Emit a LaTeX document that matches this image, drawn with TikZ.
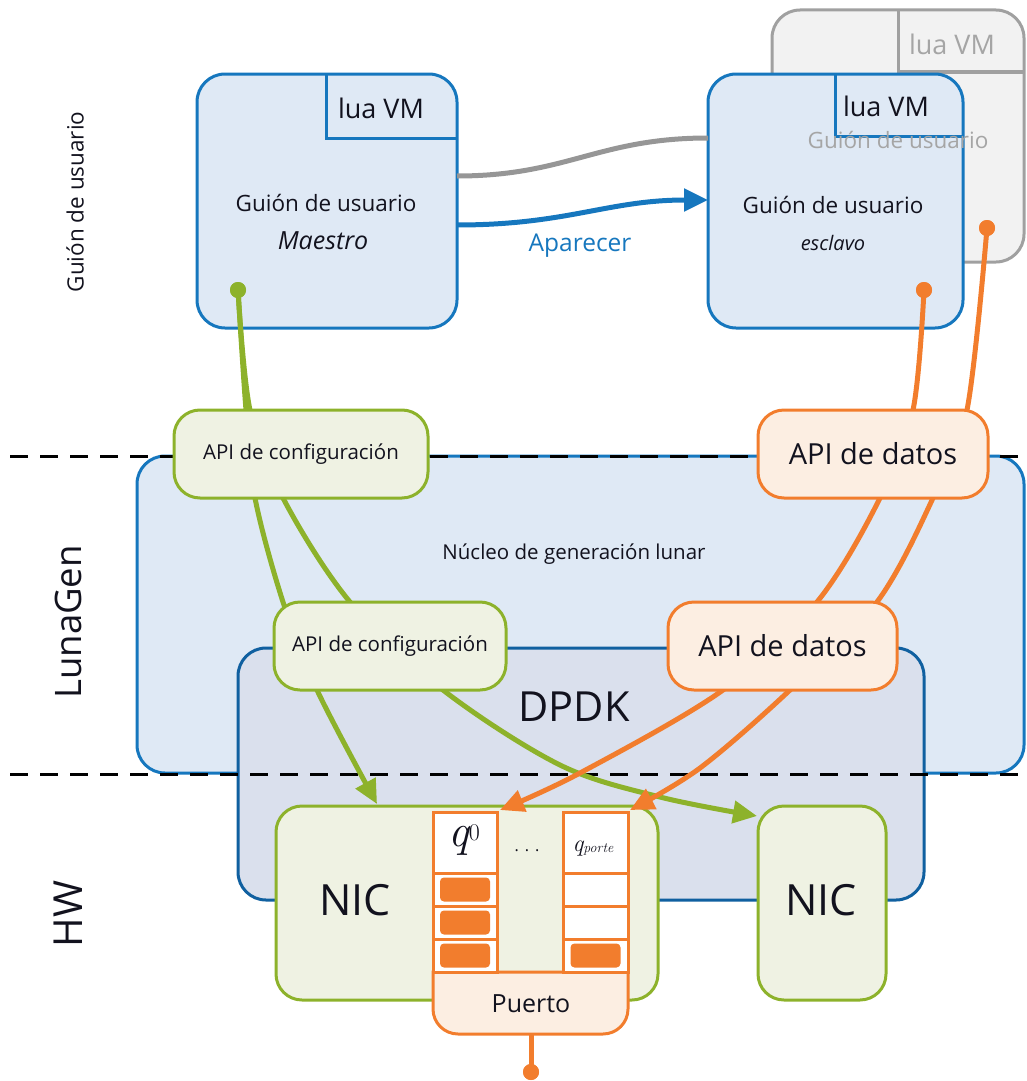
\documentclass[tikz,border=0pt]{standalone}
\usepackage{fontspec}
\setmainfont{Open Sans}
\newfontfamily\lmr{Latin Modern Roman}
\usetikzlibrary{arrows.meta}
\definecolor{bstroke}{RGB}{22,119,190}
\definecolor{bfill}{RGB}{223,233,245}
\definecolor{dfill}{RGB}{218,224,237}
\definecolor{dstroke}{RGB}{16,96,160}
\definecolor{gstroke}{RGB}{141,178,43}
\definecolor{gfill}{RGB}{239,242,227}
\definecolor{ostroke}{RGB}{242,125,45}
\definecolor{ofill}{RGB}{252,238,226}
\definecolor{grayfill}{RGB}{242,242,242}
\definecolor{graystroke}{RGB}{160,160,160}
\definecolor{graytext}{RGB}{165,165,165}
\definecolor{txt}{RGB}{18,18,30}
\newcommand{\fsz}[1]{\fontsize{#1}{#1}\selectfont}
\begin{document}
\begin{tikzpicture}[x=1pt,y=-1pt,
  every node/.style={text=txt, inner sep=0pt, outer sep=0pt},
  userbox/.style={draw=bstroke, fill=bfill, line width=3pt, rounded corners=28pt},
  shadowbox/.style={draw=graystroke, fill=grayfill, line width=3pt, rounded corners=28pt},
  layerbox/.style={draw=bstroke, fill=bfill, line width=3pt, rounded corners=28pt},
  dpdkbox/.style={draw=dstroke, fill=dfill, line width=3pt, rounded corners=28pt},
  greenbox/.style={draw=gstroke, fill=gfill, line width=3pt, rounded corners=26pt},
  orangebox/.style={draw=ostroke, fill=ofill, line width=3pt, rounded corners=26pt},
  gline/.style={draw=gstroke, line width=5pt},
  oline/.style={draw=ostroke, line width=5pt},
  tipped/.style={-{Triangle[length=24pt,width=22pt]}},
  sep/.style={draw=black, line width=3pt, dash pattern=on 18pt off 12pt},
  cell/.style={draw=ostroke, fill=white, line width=3pt, minimum width=64pt},
  blk/.style={fill=ostroke, rounded corners=4pt, minimum width=50pt, minimum height=24pt},
  dot/.style={circle, minimum size=16pt}
]
\useasboundingbox (0,0) rectangle (1026,1081);

% ---------- user script layer ----------
\node[shadowbox, minimum width=252pt, minimum height=252pt] (shadow) at (898,136) {};
\draw[graystroke, line width=3pt] (898,10) |- (1024,72);
\node[text=graytext, font=\fsz{27}] (svm) at (952,44) {lua VM};

\node[userbox, minimum width=260pt, minimum height=254pt] (master) at (327,201) {};
\draw[bstroke, line width=3pt] (326,74) |- (457,138);
\node[font=\fsz{27}] (mvm) at (381,108) {lua VM};
\node[font=\fsz{22.5}] (mg) at (326,203) {Guión de usuario};
\node[font=\fsz{25}\itshape] (mm) at (323,241) {Maestro};

\node[userbox, minimum width=255pt, minimum height=254pt] (slave) at (835.5,201) {};
\draw[bstroke, line width=3pt] (835,74) |- (963,136);
\node[font=\fsz{27}] (slvm) at (886,106) {lua VM};
\node[font=\fsz{22.5}] (sg) at (833,205) {Guión de usuario};
\node[font=\fsz{20}\itshape] (se) at (833,243) {esclavo};
\node[text=graytext, font=\fsz{22.5}] (shg) at (898,140) {Guión de usuario};

\draw[draw={rgb,255:red,150;green,150;blue,150}, line width=5pt]
  ([yshift=25pt]master.east) .. controls +(110,0) and +(-110,0) .. ([yshift=63pt]slave.west);
\draw[draw=bstroke, line width=5pt, tipped]
  ([yshift=-24pt]master.east) .. controls +(110,0) and +(-100,0) .. ([yshift=1pt]slave.west);
\node[text=bstroke, font=\fsz{24.5}] (apar) at (580,246) {Aparecer};

% ---------- left labels ----------
\node[rotate=90, font=\fsz{22.5}] (l1) at (75,202) {Guión de usuario};
\node[rotate=90, font=\fsz{36.5}] (l2) at (68,622) {LunaGen};
\node[rotate=90, font=\fsz{40}] (l3) at (68,914) {HW};

% ---------- LunaGen / DPDK ----------
\node[layerbox, minimum width=887pt, minimum height=317pt] (core) at (580.5,614.5) {};
\node[font=\fsz{20.5}] (coretxt) at (574,554) {Núcleo de generación lunar};
\node[dpdkbox, minimum width=686pt, minimum height=252pt] (dpdk) at (581,774) {};
\node[font=\fsz{41.5}] (dpdktxt) at (574,707) {DPDK};

\draw[sep] (10,456) -- (1026,456);
\draw[sep] (10,774) -- (1026,774);

% ---------- HW ----------
\node[greenbox, minimum width=382pt, minimum height=194pt] (nicL) at (467,903) {};
\node[font=\fsz{43}] (nicLt) at (355,900) {NIC};
\node[greenbox, minimum width=128pt, minimum height=194pt] (nicR) at (822,903) {};
\node[font=\fsz{43}] (nicRt) at (821,900) {NIC};

% port
\filldraw[draw=ostroke, fill=ofill, line width=3pt]
  (433,972) -- (433,1009) arc[start angle=180, end angle=90, radius=25]
  -- (603,1034) arc[start angle=90, end angle=0, radius=25] -- (628,972) -- cycle;
\node[font=\fsz{25}] (puerto) at (531,1004) {Puerto};
\coordinate (pbot) at (531,1034);

% queues
\node[cell, minimum height=61pt] (q0h) at (465,842.5) {};
\node[font=\fsz{46}] at (464,840) {\lmr\itshape q\raisebox{6pt}{\upshape\fsz{24}0}};
\node[cell, minimum height=33pt] (q0a) at (465,889.5) {};
\node[cell, minimum height=33pt] (q0b) at (465,922.5) {};
\node[cell, minimum height=33pt] (q0c) at (465,955.5) {};
\node[blk] at (q0a) {};
\node[blk] at (q0b) {};
\node[blk] at (q0c) {};

\node[cell, minimum width=65pt, minimum height=61pt] (qph) at (595.5,842.5) {};
\node[font=\fsz{24}] at (593,849) {\lmr\itshape q\raisebox{-1pt}{\fsz{14}porte}};
\node[cell, minimum width=65pt, minimum height=33pt] (qpa) at (595.5,889.5) {};
\node[cell, minimum width=65pt, minimum height=33pt] (qpb) at (595.5,922.5) {};
\node[cell, minimum width=65pt, minimum height=33pt] (qpc) at (595.5,955.5) {};
\node[blk] at (qpc) {};

\node[font=\fsz{16}] (dots) at (527,851) {.\hspace{6pt}.\hspace{6pt}.};

% ---------- dots / waypoints ----------
\node[dot, fill=gstroke] (mdot) at (238,290) {};
\node[dot, fill=ostroke] (sdot) at (924,290) {};
\node[dot, fill=ostroke] (shdot) at (987,228) {};
\node[dot, fill=ostroke] (pdot) at (531,1072) {};

\coordinate (nicLin) at (377,804);
\coordinate (nicRin) at (757,816);

% ---------- connectors ----------
\draw[gline, tipped] plot[smooth, tension=0.55] coordinates
  {(mdot.center) (246,410) (255,498) (283,602) (317,690) (nicLin)};
\draw[gline, tipped] plot[smooth, tension=0.55] coordinates
  {(mdot.center) (250,410) (283,498) (350,602) (443,690) (560,765) (660,797) (nicRin)};
\draw[oline, tipped] plot[smooth, tension=0.55] coordinates
  {(sdot.center) (913,410) (880,498) (817,602) (723,690) (580,773) ([xshift=3pt,yshift=2pt]q0h.north east)};
\draw[oline, tipped] plot[smooth, tension=0.55] coordinates
  {(shdot.center) (967,410) (933,498) (877,602) (790,690) (700,768) ([xshift=2pt,yshift=2pt]qph.north east)};
\draw[oline] (pbot) -- (pdot.center);

% redraw dots on top
\node[dot, fill=gstroke] at (mdot) {};
\node[dot, fill=ostroke] at (sdot) {};
\node[dot, fill=ostroke] at (shdot) {};
\node[dot, fill=ostroke] at (pdot) {};

% ---------- API boxes ----------
\node[greenbox, minimum width=254pt, minimum height=88pt] (cfgA) at (301,454) {};
\node[font=\fsz{20.5}] at (cfgA) {API de configuración};
\node[greenbox, minimum width=232pt, minimum height=88pt] (cfgB) at (390,646) {};
\node[font=\fsz{20.5}] at (cfgB) {API de configuración};
\node[orangebox, minimum width=230pt, minimum height=88pt] (datA) at (873,454) {};
\node[font=\fsz{29}] at (datA) {API de datos};
\node[orangebox, minimum width=229pt, minimum height=88pt] (datB) at (782.5,646) {};
\node[font=\fsz{29}] at (datB) {API de datos};
\end{tikzpicture}
\end{document}
